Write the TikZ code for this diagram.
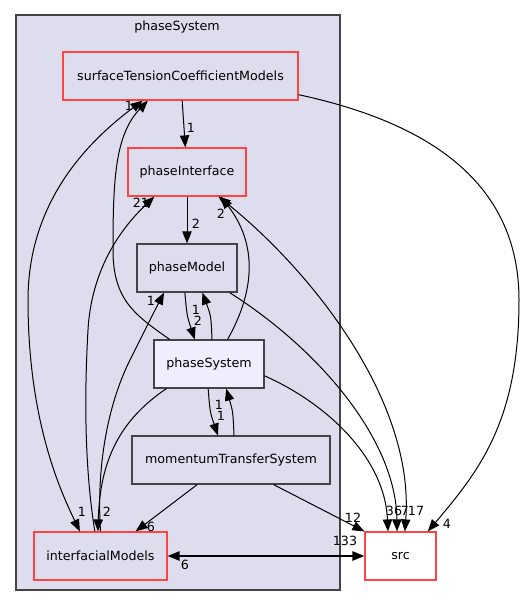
\documentclass[tikz,border=0pt]{standalone}
\usepackage{fontspec}
\setmainfont{DejaVu Sans}
\usetikzlibrary{arrows.meta,positioning}
\definecolor{ClusterFill}{HTML}{DDDDEE}
\definecolor{FocusFill}{HTML}{EEEEFF}
\definecolor{DirRed}{HTML}{FF4444}
\definecolor{DirGray}{HTML}{444444}

\begin{document}
\begin{tikzpicture}[
  x=0.75pt,y=-0.75pt,
  every node/.style={font=\fontsize{9.5}{11}\selectfont},
  cluster/.style={rectangle,draw=DirGray,fill=ClusterFill,line width=0.9pt,inner sep=0pt},
  dirbox/.style={rectangle,draw=DirGray,fill=ClusterFill,line width=0.9pt,minimum height=36pt,inner sep=0pt},
  redbox/.style={dirbox,draw=DirRed},
  edge/.style={-{Triangle[length=9pt,width=7pt]},line width=0.75pt,draw=black},
  twoway/.style={edge,{Triangle[length=9pt,width=7pt]}-{Triangle[length=9pt,width=7pt]}},
  lbl/.style={inner sep=0pt}]
\useasboundingbox (0,0) rectangle (525,607);
% directory cluster
\node[cluster,minimum width=243pt,minimum height=431.25pt] (clus) at (178,302.5) {};
\node (clustitle) at (177,27) {phaseSystem};
% directories
\node[redbox,minimum width=176.25pt] (stcm) at (180.5,76) {surfaceTensionCoefficientModels};
\node[redbox,minimum width=88.5pt] (pint) at (187,172) {phaseInterface};
\node[dirbox,minimum width=75pt] (pmod) at (187,268) {phaseModel};
\node[dirbox,fill=FocusFill,minimum width=82.5pt] (psys) at (209,364) {phaseSystem};
\node[dirbox,minimum width=148.5pt] (mts) at (231,460) {momentumTransferSystem};
\node[redbox,minimum width=99.75pt] (ifm) at (100.5,556) {interfacialModels};
\node[redbox,fill=white,minimum width=53.25pt] (src) at (400.5,556) {src};
% dependencies
\draw[edge] (stcm) -- (pint) node[lbl,at={(191,128)}] {1};
\draw[edge] (stcm.-9) .. controls (440,125) and (519,190) .. (519,300) .. controls (519,420) and (480,470) .. (src.42) node[lbl,at={(447,524)}] {4};
\draw[twoway] (stcm.213) .. controls (90,140) and (28,200) .. (28,300) .. controls (28,420) and (60,490) .. (ifm.130) node[lbl,at={(82,512)}] {1};
\draw[edge] (pint) -- (pmod) node[lbl,at={(196,224)}] {2};
\draw[twoway] (pint.-38) .. controls (310,270) and (415,400) .. (src.80) node[lbl,at={(416,511)}] {17};
\draw[edge] (pmod.-95) .. controls (187,316) .. (psys.120) node[lbl,at={(198,321)}] {2};
\draw[edge] (pmod.-30) .. controls (320,350) and (396,440) .. (src.98) node[lbl,at={(405,511)}] {7};
\draw[edge] (psys.83) .. controls (211,316) .. (pmod.-58) node[lbl,at={(196,310)}] {1};
\draw[edge] (psys.148) .. controls (135,315) and (113,300) .. (113,250) .. controls (113,180) and (115,135) .. (stcm.217) node[lbl,at={(129,106)}] {1};
\draw[edge] (psys.53) .. controls (250,300) and (262,250) .. (pint.-36) node[lbl,at={(221,214)}] {2};
\draw[edge] (psys.210) .. controls (120,420) and (100,460) .. (ifm.96) node[lbl,at={(107,512)}] {2};
\draw[edge] (psys.-92) .. controls (210,412) .. (mts.118) node[lbl,at={(221,416)}] {1};
\draw[edge] (psys.-12) .. controls (330,405) and (385,460) .. (src.117) node[lbl,at={(394,511)}] {36};
\draw[edge] (mts.83) .. controls (233,412) .. (psys.-55) node[lbl,at={(219,405)}] {1};
\draw[edge] (mts.216) -- (ifm.35) node[lbl,at={(151,527)}] {6};
\draw[edge] (mts.-30) -- (src.north west) node[lbl,at={(353,518)}] {12};
\draw[edge] (ifm.103) .. controls (85,470) and (84,400) .. (88,330) .. controls (92,260) and (130,220) .. (pint.217) node[lbl,at={(141,203)}] {21};
\draw[edge] (ifm.north) .. controls (96,460) and (110,400) .. (130,360) .. controls (145,330) and (155,310) .. (pmod.227) node[lbl,at={(151,301)}] {1};
\draw[twoway,line width=1.2pt] (ifm) -- (src) node[lbl,at={(345,541)}] {133} node[lbl,at={(185,565)}] {6};
\end{tikzpicture}
\end{document}
